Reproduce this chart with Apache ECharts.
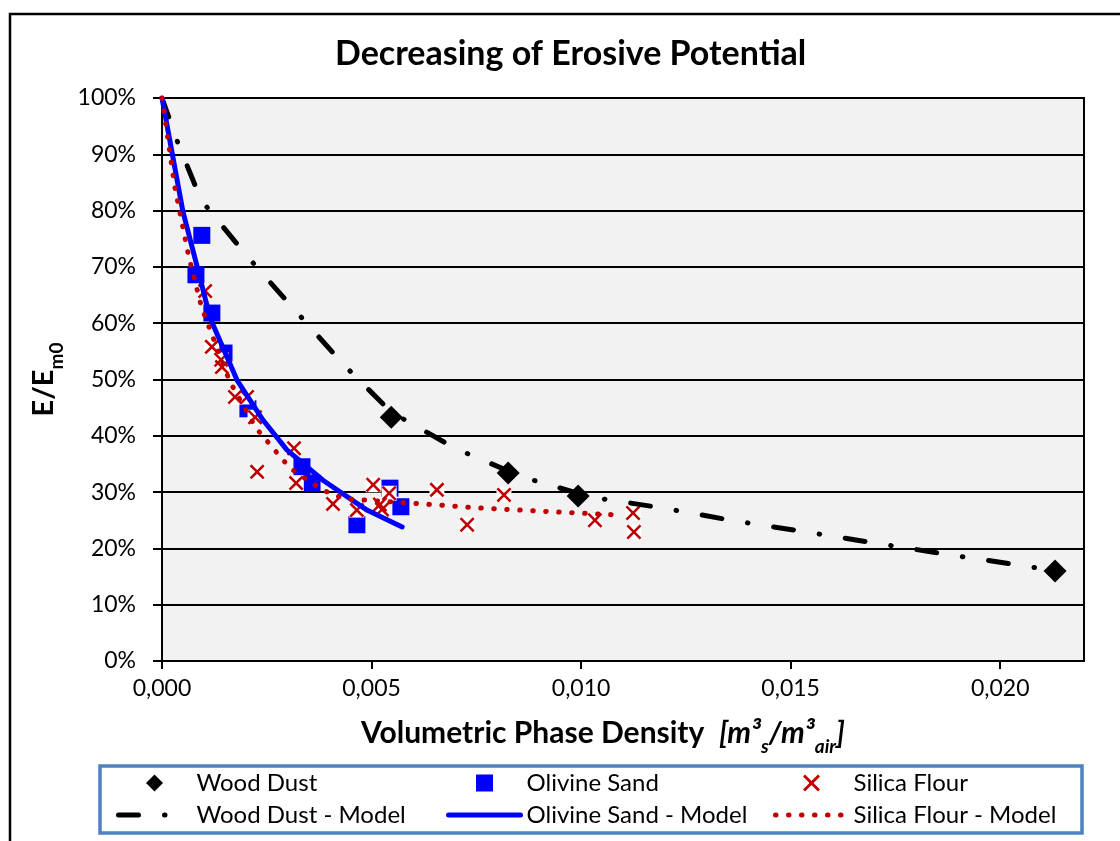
<!DOCTYPE html>
<html>
<head>
<meta charset="utf-8">
<title>Decreasing of Erosive Potential</title>
<script src="https://cdn.jsdelivr.net/npm/echarts@6/dist/echarts.min.js"></script>
<style>
	html,body{margin:0;padding:0;background:#fff;}
	#chartDiv{width:1120px;height:841px;}
</style>
</head>
<body>
<div id="chartDiv"></div>
<script>
// measured points, x = volumetric phase density, y = E/Em0 in %
var woodDust = [[0.00547,43.3],[0.00826,33.4],[0.00993,29.3],[0.02131,16.0]];
var olivineSand = [[0.00081,68.6],[0.00095,75.6],[0.00119,61.8],[0.00148,54.7],[0.00205,44.8],
	[0.00334,34.5],[0.00358,31.6],[0.00465,24.2],[0.00544,30.7],[0.00570,27.4]];
var silicaFlour = [[0.00103,65.7],[0.00119,55.8],[0.00141,53.5],[0.00143,52.2],[0.00174,46.9],
	[0.00203,46.9],[0.00222,43.3],[0.00227,33.6],[0.00315,37.8],[0.00320,31.6],[0.00408,27.9],
	[0.00465,26.8],[0.00504,31.3],[0.00520,27.8],[0.00525,26.9],[0.00542,29.8],[0.00656,30.4],
	[0.00728,24.2],[0.00816,29.5],[0.01033,25.0],[0.01124,26.3],[0.01126,22.9]];

// model curves
var woodDustModel = [[0,100],[0.00036,92.4],[0.00093,81.9],[0.00203,71.9],[0.00315,62.5],[0.00430,52.9],
	[0.00547,44.2],[0.00699,37.8],[0.00859,32.7],[0.01024,29.1],[0.01193,27.2],[0.01365,24.9],
	[0.01539,22.9],[0.01714,20.8],[0.01885,18.8],[0.02057,16.9],[0.02131,16.0]];
var olivineSandModel = [[0,100],[0.0005,79.8],[0.00084,70.0],[0.00115,60.9],[0.00179,49.9],[0.00241,42.8],
	[0.00298,37.5],[0.00384,32.1],[0.00489,26.8],[0.00573,23.8]];
var silicaFlourModel = [[0,100],[0.00031,84.0],[0.00064,71.8],[0.00095,62.7],[0.00162,49.6],[0.00224,41.4],
	[0.00305,34.3],[0.00382,30.4],[0.00437,28.8],[0.00623,27.9],[0.00752,27.2],[0.00907,26.6],[0.01098,25.9]];

var xTicks = [0,0.005,0.010,0.015,0.020];
var yTicks = [0,10,20,30,40,50,60,70,80,90,100];

var fontName = 'Lato';
var xMark = 'path://M0,12L12,0L50,38L88,0L100,12L62,50L100,88L88,100L50,62L12,100L0,88L38,50Z';
var diamondMark = 'path://M50,0L100,50L50,100L0,50Z';
var squareMark = 'path://M0,0L100,0L100,100L0,100Z';

var myChart = echarts.init(document.getElementById('chartDiv'), null, {renderer:'canvas'});

// one legend column: marker on top, model line below (its circle hidden)
function legendBlock(marker, icon, model, left)
{
	return {
		orient:'vertical',
		left:left,
		top:771,
		padding:0,
		itemWidth:72,
		itemHeight:17,
		itemGap:8,
		symbolKeepAspect:true,
		data:[{name:marker,icon:icon},{name:model,itemStyle:{opacity:0}}],
		textStyle:{fontFamily:fontName,fontSize:24,color:'#000',padding:[0,0,0,1]},
		lineStyle:{width:'inherit'}
	};
}

var option = {
	backgroundColor:'#fff',
	animation:false,
	title:{
		text:'Decreasing of Erosive Potential',
		left:335,
		top:37,
		padding:0,
		textStyle:{fontFamily:fontName,fontSize:34,fontWeight:'bold',color:'#000'}
	},
	graphic:[
		{type:'rect',shape:{x:10,y:14,width:1200,height:900},style:{fill:'none',stroke:'#000',lineWidth:2.5},silent:true},
		{type:'rect',shape:{x:100,y:766,width:982,height:67},style:{fill:'#fff',stroke:'#4f81bd',lineWidth:3.5},z:-1,silent:true}
	],
	legend:[
		legendBlock('Wood Dust',diamondMark,'Wood Dust - Model',116),
		legendBlock('Olivine Sand',squareMark,'Olivine Sand - Model',446),
		legendBlock('Silica Flour',xMark,'Silica Flour - Model',773)
	],
	grid:{
		left:162,
		top:98,
		right:36,
		bottom:180,
		show:true,
		backgroundColor:'#f2f2f2',
		borderColor:'#000',
		borderWidth:2
	},
	xAxis:{
		type:'value',
		min:0,
		max:0.022,
		name:'{a|Volumetric Phase Density  }{i|[m³}{s|s}{i|/m³}{s|air}{i|]}',
		nameLocation:'middle',
		nameGap:57,
		nameTextStyle:{
			padding:[0,40,0,0],
			rich:{
				a:{fontFamily:fontName,fontSize:30,fontWeight:'bold',color:'#000',lineHeight:38,verticalAlign:'top'},
				i:{fontFamily:fontName,fontSize:30,fontWeight:'bold',fontStyle:'italic',color:'#000',lineHeight:38,verticalAlign:'top'},
				s:{fontFamily:fontName,fontSize:19,fontWeight:'bold',fontStyle:'italic',color:'#000',lineHeight:19,verticalAlign:'bottom'}
			}
		},
		axisLine:{show:true,lineStyle:{color:'#000',width:2}},
		axisTick:{show:true,customValues:xTicks,length:8,lineStyle:{color:'#000',width:2}},
		axisLabel:{
			customValues:xTicks,
			margin:16,
			fontFamily:fontName,fontSize:23,color:'#000',
			formatter:function(v){ return v.toFixed(3).replace('.',','); }
		},
		splitLine:{show:false}
	},
	yAxis:{
		type:'value',
		min:0,
		max:100,
		interval:10,
		name:'{a|E/E}{b|m0}',
		nameLocation:'middle',
		nameRotate:90,
		nameGap:90,
		nameTextStyle:{
			rich:{
				a:{fontFamily:fontName,fontSize:29,fontWeight:'bold',color:'#000',lineHeight:38,verticalAlign:'top'},
				b:{fontFamily:fontName,fontSize:19,fontWeight:'bold',color:'#000',lineHeight:19,verticalAlign:'bottom'}
			}
		},
		axisLine:{show:true,lineStyle:{color:'#000',width:2}},
		axisTick:{show:true,customValues:yTicks,length:9,lineStyle:{color:'#000',width:2}},
		axisLabel:{
			margin:26,
			fontFamily:fontName,fontSize:23,color:'#000',
			formatter:'{value}%'
		},
		splitLine:{show:true,lineStyle:{color:'#000',width:2}}
	},
	series:[
		{
			name:'Wood Dust - Model',type:'line',data:woodDustModel,symbol:'none',showSymbol:false,
			lineStyle:{color:'#000',width:5,type:[20,26,0.5,26],cap:'round'},itemStyle:{color:'#000'}
		},
		{
			name:'Olivine Sand - Model',type:'line',data:olivineSandModel,symbol:'none',showSymbol:false,
			lineStyle:{color:'#0000ff',width:5,type:'solid',cap:'round'},itemStyle:{color:'#0000ff'}
		},
		{
			name:'Silica Flour - Model',type:'line',data:silicaFlourModel,symbol:'none',showSymbol:false,
			lineStyle:{color:'#c00000',width:5,type:[0.5,12.5],cap:'round'},itemStyle:{color:'#c00000'}
		},
		{
			name:'Wood Dust',type:'scatter',data:woodDust,symbol:'diamond',symbolSize:23,
			itemStyle:{color:'#000',opacity:1}
		},
		{
			name:'Olivine Sand',type:'scatter',data:olivineSand,symbol:'rect',symbolSize:17,
			itemStyle:{color:'#0000ff',opacity:1}
		},
		{
			// white box behind each cross like the spreadsheet marker fill
			name:'Silica Flour bg',type:'scatter',data:silicaFlour,symbol:'rect',symbolSize:15,
			itemStyle:{color:'#fff',opacity:1},silent:true
		},
		{
			name:'Silica Flour',type:'scatter',data:silicaFlour,symbol:xMark,symbolSize:15,
			itemStyle:{color:'#c00000',opacity:1}
		}
	]
};

myChart.setOption(option);
</script>
</body>
</html>
